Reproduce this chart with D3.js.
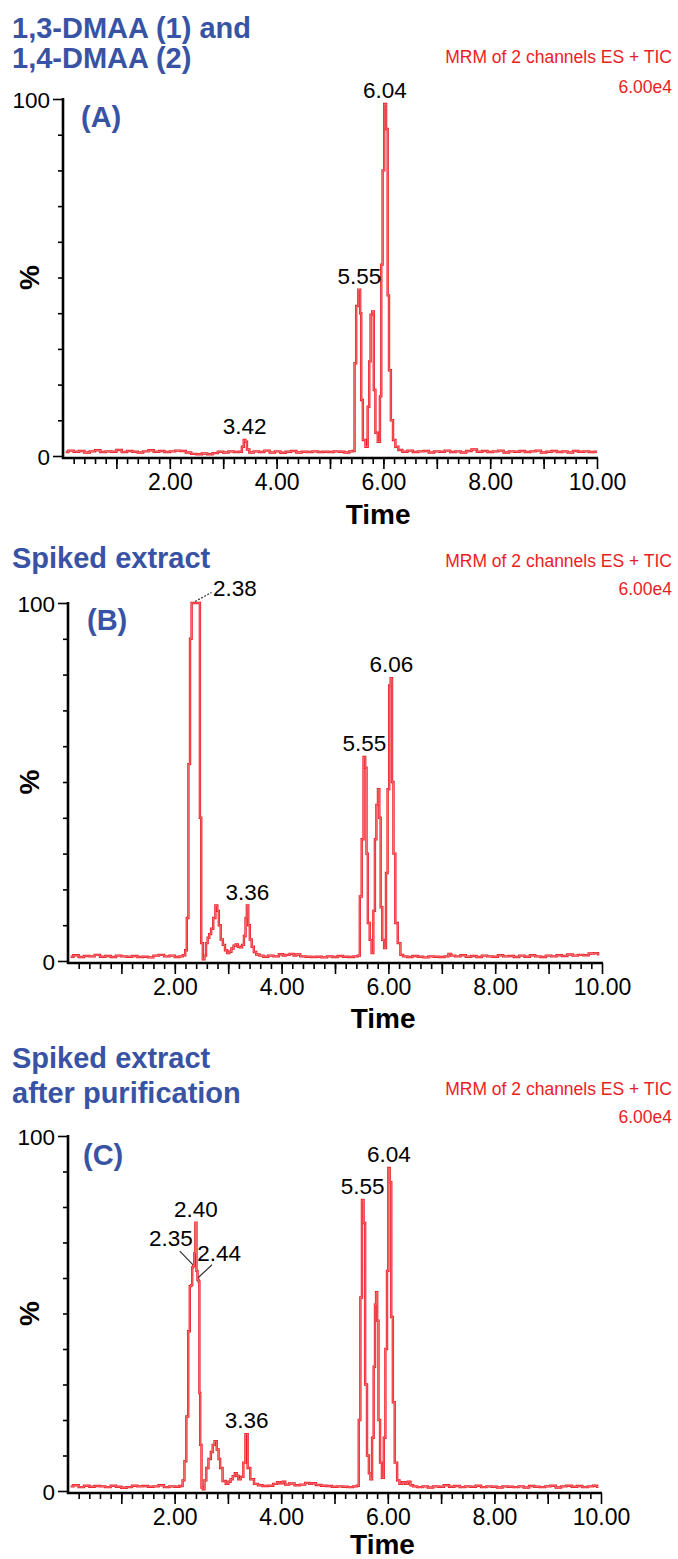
<!DOCTYPE html>
<html>
<head>
<meta charset="utf-8">
<script src="https://cdnjs.cloudflare.com/ajax/libs/d3/7.8.5/d3.min.js"></script>
<style>
  body { margin: 0; background: #fff; }
  svg { display: block; font-family: "Liberation Sans", Arial, Helvetica, sans-serif; }
</style>
</head>
<body>
<div id="chart"></div>
<script>
// --- data: [time (min), intensity (%)] ---
const traceA = [
  [0.05,1.1],[0.15,1.5],[0.25,1.2],[0.35,1.4],[0.45,1.0],[0.55,1.3],[0.65,1.6],[0.75,1.1],[0.85,1.3],[0.95,1.2],
  [1.05,1.7],[1.15,1.1],[1.25,1.4],[1.35,1.2],[1.45,1.0],[1.55,1.3],[1.65,1.6],[1.75,1.2],[1.85,1.4],[1.95,1.1],
  [2.05,1.3],[2.15,1.5],[2.25,1.4],[2.35,1.0],[2.45,0.6],[2.55,0.5],[2.65,0.7],[2.75,0.5],[2.85,0.8],[2.95,1.2],
  [3.05,1.0],[3.15,1.3],[3.25,1.1],[3.33,1.2],[3.37,2.6],[3.40,4.5],[3.43,4.0],[3.46,1.8],[3.52,1.0],[3.62,1.3],
  [3.72,1.1],[3.82,1.5],[3.92,1.0],[4.02,1.3],[4.12,0.9],[4.22,1.2],[4.32,1.4],[4.42,1.0],[4.52,1.2],[4.62,1.1],
  [4.72,1.3],[4.82,1.1],[4.92,1.2],[5.02,1.1],[5.12,1.3],[5.22,1.2],[5.32,1.0],[5.40,1.3],[5.45,1.4],
  [5.47,26],[5.51,42],[5.55,46.6],[5.58,40],[5.59,15.7],[5.64,4.5],[5.69,2.6],[5.72,13.8],[5.75,26.5],[5.77,39.6],
  [5.81,40.5],[5.83,18.5],[5.87,6.5],[5.92,4],[5.95,16.7],[5.97,53.6],[6.00,80],[6.03,98.6],[6.07,91.6],[6.09,45],
  [6.12,24],[6.16,10],[6.20,4.5],[6.25,2.6],[6.31,1.7],
  [6.40,1.2],[6.50,1.5],[6.60,1.1],[6.70,1.3],[6.80,1.4],[6.90,1.0],[7.00,1.3],[7.10,1.2],[7.20,1.5],[7.30,1.1],
  [7.40,1.3],[7.50,1.0],[7.60,1.4],[7.70,1.8],[7.80,1.2],[7.90,1.4],[8.00,1.1],[8.10,1.3],[8.20,1.5],[8.30,1.0],
  [8.40,1.3],[8.50,1.2],[8.60,1.4],[8.70,1.1],[8.80,1.3],[8.90,1.5],[9.00,1.0],[9.10,1.2],[9.20,1.4],[9.30,1.1],
  [9.40,1.3],[9.50,1.0],[9.60,1.4],[9.70,1.2],[9.80,1.3],[9.90,1.1],[10.0,1.2]
];

const traceB = [
  [0.05,1.2],[0.15,1.6],[0.25,1.1],[0.35,1.4],[0.45,1.3],[0.55,1.7],[0.65,1.2],[0.75,1.4],[0.85,1.1],[0.95,1.5],
  [1.05,1.3],[1.15,1.2],[1.25,1.4],[1.35,1.1],[1.45,1.2],[1.55,1.0],[1.65,1.5],[1.75,1.7],[1.85,1.3],[1.95,1.5],
  [2.05,1.1],[2.12,1.3],[2.18,1.6],
  [2.21,3],[2.24,12],[2.27,55],[2.30,90],[2.33,100],[2.38,100],[2.43,100],[2.46,100],[2.48,40],[2.51,5],
  [2.54,0.5],[2.57,1.5],[2.60,5],[2.63,6.5],[2.66,7.5],[2.70,9],[2.74,12],[2.78,15.5],[2.81,14],[2.84,10],
  [2.88,6],[2.92,4.5],[2.96,3],[3.00,2.2],[3.04,2.6],[3.08,3.5],[3.12,4.3],[3.16,4.6],[3.20,4.0],[3.24,3.8],
  [3.28,4.5],[3.31,7],[3.34,12],[3.36,15.5],[3.39,10],[3.42,6],[3.46,4],[3.50,2.5],[3.55,1.8],[3.62,1.5],
  [3.70,1.2],[3.80,1.5],[3.90,1.3],[4.00,1.9],[4.05,1.5],[4.10,1.7],[4.20,2.0],[4.25,1.5],[4.30,1.8],[4.40,1.3],
  [4.50,1.2],[4.60,1.1],[4.70,1.2],[4.80,1.0],[4.90,1.3],[5.00,1.1],[5.10,1.4],[5.20,1.2],[5.30,1.1],[5.40,1.3],
  [5.45,1.5],
  [5.48,18],[5.52,34],[5.55,57],[5.58,54],[5.60,30],[5.63,10.6],[5.67,5.9],[5.70,2.2],[5.735,14],[5.76,34],
  [5.79,43.6],[5.82,48],[5.84,40],[5.87,15],[5.90,5.9],[5.94,3.6],[5.97,24.6],[6.00,48],[6.03,77],[6.055,79],
  [6.08,50],[6.11,30],[6.15,10.6],[6.20,5],[6.25,1.7],
  [6.30,1.3],[6.40,1.1],[6.50,1.4],[6.60,1.2],[6.70,1.0],[6.80,1.3],[6.90,1.2],[7.00,1.1],[7.10,1.3],[7.15,2.0],
  [7.20,1.5],[7.30,1.3],[7.40,1.6],[7.50,1.2],[7.60,1.4],[7.70,1.1],[7.80,1.5],[7.90,1.3],[8.00,1.2],[8.10,1.6],
  [8.20,1.3],[8.30,1.4],[8.40,1.1],[8.50,1.5],[8.60,1.2],[8.70,1.6],[8.80,1.3],[8.90,1.1],[9.00,1.5],[9.10,1.3],
  [9.20,1.6],[9.30,1.4],[9.40,1.8],[9.50,1.5],[9.60,1.7],[9.70,1.6],[9.80,2.1],[9.90,2.2],[9.95,1.9]
];

const traceC = [
  [0.05,1.3],[0.15,1.6],[0.25,1.1],[0.35,1.5],[0.45,1.2],[0.55,1.4],[0.65,1.3],[0.75,1.1],[0.85,1.5],[0.95,1.2],
  [1.05,0.9],[1.15,1.1],[1.25,1.5],[1.35,1.3],[1.45,1.4],[1.55,1.2],[1.65,1.3],[1.75,1.6],[1.85,1.1],[1.95,1.3],
  [2.05,1.2],[2.13,1.4],
  [2.17,3],[2.20,8.4],[2.24,21],[2.27,45],[2.30,57.7],[2.32,58],[2.34,63],[2.36,63.5],[2.38,67],[2.40,75.6],
  [2.42,62],[2.44,59.5],[2.46,59],[2.47,27.6],[2.49,13],[2.52,1],[2.54,0.5],[2.58,3],[2.61,6.5],[2.66,9],
  [2.70,11],[2.73,13],[2.77,14],[2.81,11.7],[2.84,9],[2.87,6.5],[2.93,2.8],[2.99,2],[3.03,2.6],[3.07,3.3],
  [3.11,4.2],[3.15,5],[3.18,4.3],[3.21,3.3],[3.27,4],[3.31,8],[3.35,16],[3.39,6.5],[3.45,3.3],[3.53,2],
  [3.60,1.6],[3.70,1.4],[3.80,1.5],[3.90,2.0],[3.95,2.5],[4.00,2.2],[4.05,2.6],[4.10,1.8],[4.20,2.1],[4.30,1.6],
  [4.40,1.8],[4.50,2.3],[4.55,2.0],[4.60,2.2],[4.70,1.7],[4.80,1.5],[4.90,1.4],[5.00,1.2],[5.10,1.3],[5.20,1.2],
  [5.30,1.1],[5.40,1.3],[5.44,1.5],
  [5.47,20],[5.50,54.5],[5.53,82],[5.56,75.5],[5.59,30],[5.63,10],[5.66,5],[5.69,3.3],[5.72,15],[5.75,35],
  [5.77,52.5],[5.79,56],[5.81,48],[5.84,20],[5.87,8],[5.91,3.7],[5.94,15],[5.97,40],[6.00,62],[6.02,91],
  [6.05,87],[6.08,49],[6.11,25],[6.15,8],[6.20,3],[6.24,2],
  [6.30,2.5],[6.35,2.0],[6.40,2.6],[6.45,1.6],[6.50,1.3],[6.60,1.1],[6.70,1.3],[6.80,1.0],[6.90,1.3],[7.00,1.2],
  [7.10,1.6],[7.20,1.2],[7.30,1.4],[7.40,1.1],[7.50,1.3],[7.60,1.2],[7.70,1.5],[7.80,1.1],[7.90,1.3],[8.00,1.2],
  [8.10,1.0],[8.20,1.3],[8.30,1.2],[8.40,1.1],[8.50,1.3],[8.60,1.0],[8.70,1.4],[8.80,1.2],[8.90,1.1],[9.00,1.3],
  [9.10,1.5],[9.20,1.0],[9.30,1.3],[9.40,1.5],[9.50,1.2],[9.60,1.4],[9.70,1.1],[9.80,1.3],[9.90,1.5],[9.95,1.2]
];

// peak annotations
const peaksA = [
  { t: 6.03, v: 98.6, text: "6.04" },
  { t: 5.55, v: 46.6, text: "5.55" },
  { t: 3.40, v: 4.5, text: "3.42" }
];
const peaksB = [
  { t: 2.36, v: 100, text: "2.38" },
  { t: 6.055, v: 79, text: "6.06" },
  { t: 5.55, v: 57, text: "5.55" },
  { t: 3.36, v: 15.5, text: "3.36" }
];
const peaksC = [
  { t: 6.02, v: 91, text: "6.04" },
  { t: 5.53, v: 82, text: "5.55" },
  { t: 2.40, v: 75.6, text: "2.40" },
  { t: 2.36, v: 63.5, text: "2.35" },
  { t: 2.44, v: 59.5, text: "2.44" },
  { t: 3.35, v: 16, text: "3.36" }
];

const titlesA = ["1,3-DMAA (1) and", "1,4-DMAA (2)"];
const titlesB = ["Spiked extract"];
const titlesC = ["Spiked extract", "after purification"];
const scanInfo = "MRM of 2 channels ES + TIC";
const scaleInfo = "6.00e4";
const xLabelTicks = [2, 4, 6, 8, 10];
const xMajorTicks = d3.range(1, 11);
const xMinorTicks = d3.range(1, 50).map(i => i / 5);
const yMinorTicks = [10, 20, 30, 40, 50, 60, 70, 80, 90];

// leader lines for crowded labels: offsets from the peak point (px)
const leaders = {
  "B2.38": { x1: 1, y1: -1.5, x2: 17.5, y2: -10.5, tx: 19, ty: -7, anchor: "start", dash: "2,1.5" },
  "C2.35": { x1: -1, y1: -1, x2: -14, y2: -14.5, tx: -23, ty: -20, anchor: "middle" },
  "C2.44": { x1: 0, y1: -2, x2: 14, y2: -15, tx: 21, ty: -19, anchor: "middle" }
};

const BLUE = "#3953a4";
const RED = "#ed1c24";

const W = 678, H = 1559;
const svg = d3.select("#chart").append("svg")
  .attr("width", W).attr("height", H)
  .attr("viewBox", `0 0 ${W} ${H}`);

const panels = [
  { key: "A", letter: "(A)", trace: traceA, peaks: peaksA, titles: titlesA,
    x0: 63, x1: 597, y0: 456, y100: 99, axisY: 458, timeY: 524,
    titleY: [38, 68], infoY: 63, scaleY: 93, letterX: 81, letterY: 127 },
  { key: "B", letter: "(B)", trace: traceB, peaks: peaksB, titles: titlesB,
    x0: 68, x1: 602, y0: 961, y100: 603, axisY: 963, timeY: 1028,
    titleY: [568], infoY: 567, scaleY: 595, letterX: 87, letterY: 630 },
  { key: "C", letter: "(C)", trace: traceC, peaks: peaksC, titles: titlesC,
    x0: 68, x1: 601, y0: 1491, y100: 1136, axisY: 1493, timeY: 1554,
    titleY: [1068, 1103], infoY: 1095, scaleY: 1123, letterX: 83, letterY: 1165 }
];

panels.forEach(drawPanel);

function drawPanel(p) {
  const g = svg.append("g").attr("class", "panel-" + p.key);
  const x = d3.scaleLinear().domain([0, 10]).range([p.x0, p.x1]);
  const y = d3.scaleLinear().domain([0, 100]).range([p.y0, p.y100]);

  // titles
  g.selectAll("text.title")
    .data(p.titles)
    .join("text")
    .attr("class", "title")
    .attr("x", 12)
    .attr("y", (d, i) => p.titleY[i])
    .attr("fill", BLUE)
    .attr("font-size", 29)
    .attr("font-weight", "bold")
    .text(d => d);

  g.append("text")
    .attr("x", 672).attr("y", p.infoY)
    .attr("text-anchor", "end")
    .attr("fill", RED).attr("font-size", 17.5)
    .text(scanInfo);
  g.append("text")
    .attr("x", 672).attr("y", p.scaleY)
    .attr("text-anchor", "end")
    .attr("fill", RED).attr("font-size", 17.5)
    .text(scaleInfo);

  g.append("text")
    .attr("x", p.letterX).attr("y", p.letterY)
    .attr("fill", BLUE)
    .attr("font-size", 29)
    .attr("font-weight", "bold")
    .text(p.letter);

  // trace
  const line = d3.line()
    .x(d => x(d[0]))
    .y(d => y(d[1]))
    .curve(d3.curveStep);

  g.append("path")
    .datum(p.trace)
    .attr("fill", "none")
    .attr("stroke", RED)
    .attr("stroke-width", 2.4)
    .attr("stroke-linejoin", "miter")
    .attr("d", line);
  g.append("path")
    .datum(p.trace)
    .attr("fill", "none")
    .attr("stroke", "#fff")
    .attr("stroke-opacity", 0.6)
    .attr("stroke-width", 0.6)
    .attr("d", line);

  // y axis
  const yMinor = g.append("g")
    .attr("transform", `translate(${p.x0},0)`)
    .call(d3.axisLeft(y).tickValues(yMinorTicks).tickSize(5).tickFormat(""));
  const yMajor = g.append("g")
    .attr("transform", `translate(${p.x0},0)`)
    .call(d3.axisLeft(y).tickValues([0, 100]).tickSize(10).tickPadding(3).tickFormat(d3.format("d")));
  [yMinor, yMajor].forEach(a => {
    a.select(".domain").remove();
    a.selectAll(".tick line").attr("stroke", "#000").attr("stroke-width", 1.6);
    a.selectAll(".tick text").attr("font-size", 22.5).attr("font-family", null).attr("fill", "#000");
  });
  yMajor.selectAll(".tick text").attr("dy", "0.36em");
  g.append("line")
    .attr("x1", p.x0).attr("x2", p.x0)
    .attr("y1", p.y100 - 1).attr("y2", p.axisY + 1)
    .attr("stroke", "#000").attr("stroke-width", 2.6);

  // x axis
  const xMinor = g.append("g")
    .attr("transform", `translate(0,${p.axisY})`)
    .call(d3.axisBottom(x).tickValues(xMinorTicks).tickSize(6).tickFormat(""));
  const xMajor = g.append("g")
    .attr("transform", `translate(0,${p.axisY})`)
    .call(d3.axisBottom(x).tickValues(xMajorTicks).tickSize(11).tickPadding(5)
      .tickFormat(d => xLabelTicks.includes(d) ? d3.format(".2f")(d) : ""));
  [xMinor, xMajor].forEach(a => {
    a.select(".domain").remove();
    a.selectAll(".tick line").attr("stroke", "#000").attr("stroke-width", 1.6);
    a.selectAll(".tick text").attr("font-size", 23).attr("font-family", null).attr("fill", "#000");
  });
  g.append("line")
    .attr("x1", p.x0 - 1).attr("x2", p.x1 + 1)
    .attr("y1", p.axisY).attr("y2", p.axisY)
    .attr("stroke", "#000").attr("stroke-width", 2.6);

  // axis titles
  g.append("text")
    .attr("x", x(5.9)).attr("y", p.timeY)
    .attr("text-anchor", "middle")
    .attr("font-size", 28).attr("font-weight", "bold")
    .text("Time");
  g.append("text")
    .attr("transform", `translate(39,${y(50)}) rotate(-90)`)
    .attr("text-anchor", "middle")
    .attr("font-size", 28).attr("font-weight", "bold")
    .text("%");

  // peak labels
  p.peaks.forEach(pk => {
    const px = x(pk.t), py = y(pk.v);
    const ld = leaders[p.key + pk.text];
    if (ld) {
      g.append("line")
        .attr("x1", px + ld.x1).attr("y1", py + ld.y1)
        .attr("x2", px + ld.x2).attr("y2", py + ld.y2)
        .attr("stroke", "#333").attr("stroke-width", 1.2)
        .attr("stroke-dasharray", ld.dash || null);
      g.append("text")
        .attr("x", px + ld.tx).attr("y", py + ld.ty)
        .attr("text-anchor", ld.anchor)
        .attr("font-size", 22.5)
        .text(pk.text);
    } else {
      g.append("text")
        .attr("x", px).attr("y", py - 6)
        .attr("text-anchor", "middle")
        .attr("font-size", 22.5)
        .text(pk.text);
    }
  });
}
</script>
</body>
</html>
